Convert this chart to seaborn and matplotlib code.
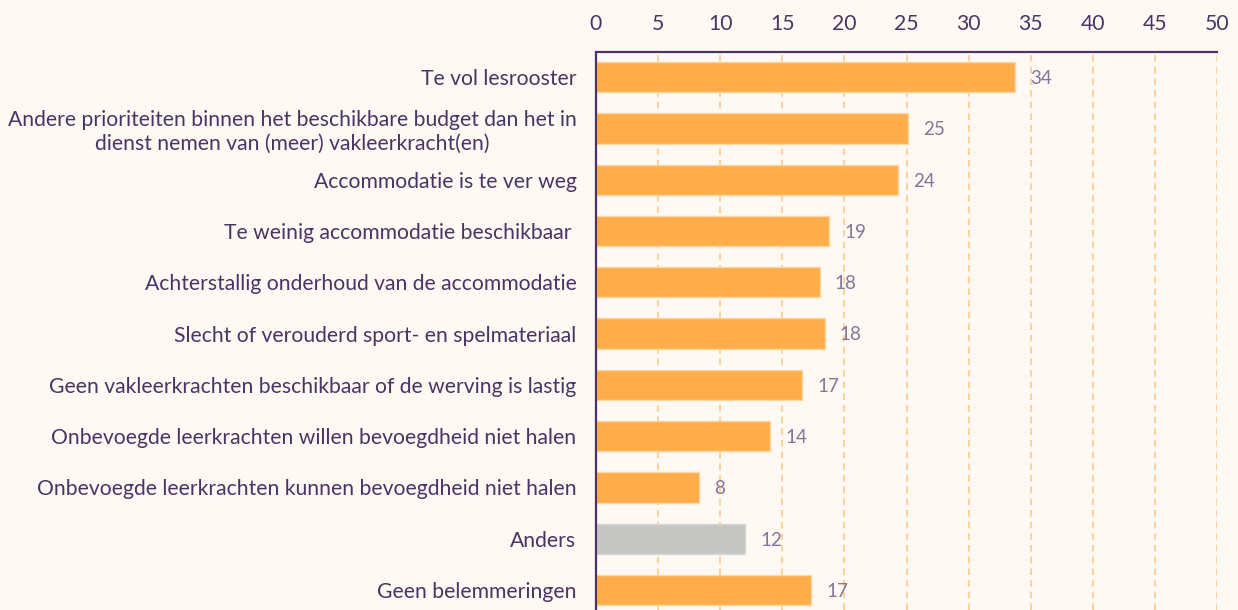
import matplotlib
matplotlib.use("Agg")
import matplotlib.pyplot as plt
import seaborn as sns
import pandas as pd

categories = [
    "Te vol lesrooster",
    "Andere prioriteiten binnen het beschikbare budget dan het in\ndienst nemen van (meer) vakleerkracht(en)",
    "Accommodatie is te ver weg",
    "Te weinig accommodatie beschikbaar ",
    "Achterstallig onderhoud van de accommodatie",
    "Slecht of verouderd sport- en spelmateriaal",
    "Geen vakleerkrachten beschikbaar of de werving is lastig",
    "Onbevoegde leerkrachten willen bevoegdheid niet halen",
    "Onbevoegde leerkrachten kunnen bevoegdheid niet halen",
    "Anders",
    "Geen belemmeringen",
]
values = [33.7, 25.1, 24.3, 18.8, 18.0, 18.4, 16.6, 14.0, 8.3, 12.0, 17.3]
value_labels = ["34", "25", "24", "19", "18", "18", "17", "14", "8", "12", "17"]
x_ticks = [0, 5, 10, 15, 20, 25, 30, 35, 40, 45, 50]

BG = "#FFF9F3"
TXT = "#4B3366"
ORANGE = "#FFAD4A"
GREY = "#C6C6C4"
colors = [GREY if c == "Anders" else ORANGE for c in categories]

sns.set_theme(style="white")
plt.rcParams["font.family"] = ["Lato", "DejaVu Sans"]

df = pd.DataFrame({"cat": categories, "val": values})

fig = plt.figure(figsize=(12.38, 6.10), dpi=100, facecolor=BG)
ax = fig.add_axes([596 / 1238, 0.0, (1217 - 596) / 1238, 1 - 52 / 610])
ax.set_facecolor(BG)

sns.barplot(data=df, x="val", y="cat", hue="cat", palette=colors, legend=False,
            saturation=1, width=0.59, edgecolor="#FFD6A3", linewidth=1.0,
            ax=ax, zorder=3)
for p, c in zip(ax.patches, colors):
    if c == GREY:
        p.set_edgecolor("#D6D6D4")

ax.set_xlim(0, 50)
ax.set_ylim(len(categories) - 1 + 0.39, -0.49)
ax.set_xticks(x_ticks)
ax.xaxis.tick_top()
ax.tick_params(axis="x", length=0, pad=13, labelsize=15.2, labelcolor=TXT)
ax.tick_params(axis="y", length=0, pad=14, labelsize=15.2, labelcolor=TXT)
for lab in ax.get_yticklabels():
    lab.set_multialignment("center")
    lab.set_linespacing(1.2)
ax.set_xlabel("")
ax.set_ylabel("")

ax.grid(axis="x", color="#FFC98A", linestyle=(0, (4, 3)), linewidth=1.2, zorder=0)
ax.grid(axis="y", visible=False)
ax.set_axisbelow(True)

for s in ["right", "bottom"]:
    ax.spines[s].set_visible(False)
for s in ["top", "left"]:
    ax.spines[s].set_color(TXT)
    ax.spines[s].set_linewidth(1.6)
    ax.spines[s].set_zorder(5)

for i, (v, lab) in enumerate(zip(values, value_labels)):
    ax.annotate(lab, xy=(v, i), xytext=(11, -1), textcoords="offset points",
                ha="left", va="center", fontsize=13.5, color="#857598",
                fontweight="normal", zorder=6)

fig.savefig("out.png", dpi=100, facecolor=BG)
